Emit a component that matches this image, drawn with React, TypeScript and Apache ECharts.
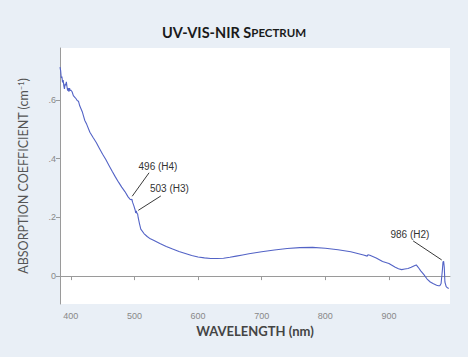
import React, { useEffect, useRef } from "react";
import * as echarts from "echarts";

const wavelength = [
  383, 384, 385, 386, 387, 388, 389, 390, 391, 392, 393, 394, 395, 396, 397, 398, 399, 400,
  402, 404, 406, 408, 410, 412, 414, 416, 418, 420, 422, 425, 430, 435, 440, 445, 450, 455,
  460, 465, 470, 475, 480, 485, 490, 493, 495, 496, 497, 499, 501, 502, 503, 504, 505, 506,
  508, 510, 515, 520, 525, 530, 540, 550, 560, 570, 580, 590, 600, 610, 620, 630, 640, 650,
  660, 670, 680, 700, 720, 740, 760, 780, 800, 820, 840, 860, 866, 867, 870, 880, 890, 900,
  910, 915, 920, 925, 930, 935, 940, 943, 946, 950, 955, 960, 965, 970, 975, 978, 980, 982,
  984, 985, 986, 987, 988, 990, 992, 994,
];
const absorption = [
  0.712, 0.7, 0.675, 0.68, 0.66, 0.668, 0.648, 0.638, 0.655, 0.65, 0.662, 0.645, 0.632, 0.64, 0.628, 0.64, 0.632, 0.634,
  0.628, 0.615, 0.61, 0.605, 0.598, 0.596, 0.58, 0.57, 0.56, 0.545, 0.53, 0.517, 0.49, 0.472, 0.455, 0.435, 0.415, 0.397,
  0.377, 0.357, 0.338, 0.32, 0.303, 0.288, 0.27, 0.262, 0.26, 0.262, 0.252, 0.24, 0.226, 0.215, 0.222, 0.214, 0.212, 0.198,
  0.178, 0.16, 0.145, 0.135, 0.127, 0.122, 0.111, 0.101, 0.092, 0.084, 0.077, 0.07, 0.065, 0.062, 0.06, 0.06, 0.061, 0.064,
  0.068, 0.072, 0.076, 0.083, 0.089, 0.094, 0.097, 0.098, 0.095, 0.09, 0.083, 0.072, 0.068, 0.073, 0.071, 0.062, 0.05, 0.043,
  0.03, 0.025, 0.022, 0.024, 0.026, 0.03, 0.035, 0.038, 0.03, 0.018, 0.005, -0.01, -0.02, -0.026, -0.031, -0.033, -0.033, -0.025,
  0.02, 0.048, 0.05, 0.03, -0.02, -0.036, -0.04, -0.042,
];
const xTicks = [400, 500, 600, 700, 800, 900];
const yTicks = [0, 0.2, 0.4, 0.6];
const annotations = [
  { label: "496 (H4)", from: [496.5, 0.272], to: [523, 0.352], text: [537, 0.374] },
  { label: "503 (H3)", from: [506, 0.224], to: [541.5, 0.273], text: [555, 0.3] },
  { label: "986 (H2)", from: [983, 0.055], to: [938, 0.12], text: [933, 0.141] },
];

export default function App() {
  const ref = useRef<HTMLDivElement>(null);
  useEffect(() => {
    document.body.style.margin = "0";
    const chart = echarts.init(ref.current!, null, { renderer: "svg" });
    const data = wavelength.map((w, i) => [w, absorption[i]]);
    chart.setOption({
      animation: false,
      backgroundColor: "#e9eff6",
      title: {
        text: "{a|UV-VIS-NIR S}{b|PECTRUM}",
        left: "center",
        top: 20,
        textStyle: {
          rich: {
            a: { fontFamily: "Lato", fontWeight: "bold", fontSize: 14.5, color: "#1a1a1a" },
            b: { fontFamily: "Lato", fontWeight: "bold", fontSize: 11.5, color: "#1a1a1a" },
          },
        },
      },
      grid: {
        left: 60,
        right: 18,
        top: 48,
        bottom: 53,
        show: true,
        backgroundColor: "#ffffff",
        borderWidth: 0,
      },
      xAxis: {
        type: "value",
        min: 383,
        max: 996,
        name: "WAVELENGTH (nm)",
        nameLocation: "middle",
        nameGap: 20,
        nameTextStyle: { fontFamily: "Lato", fontSize: 13, color: "#444", fontWeight: "bold" },
        axisLine: { show: true, lineStyle: { color: "#9a9a9a", width: 1 } },
        axisTick: { show: true, length: 4, customValues: xTicks, lineStyle: { color: "#9a9a9a" } },
        axisLabel: { customValues: xTicks, color: "#888", fontSize: 9, fontFamily: "Liberation Sans", margin: 7 },
        splitLine: { show: false },
      },
      yAxis: {
        type: "value",
        min: -0.095,
        max: 0.777,
        name: "{a|ABSORPTION COEFFICIENT (cm}{s|–1}{a|)}",
        nameLocation: "middle",
        nameGap: 30,
        nameRotate: 90,
        nameTextStyle: {
          rich: {
            a: { fontFamily: "Lato", fontSize: 12.5, color: "#555" },
            s: { fontFamily: "Lato", fontSize: 7.5, color: "#555", verticalAlign: "top", padding: [0, 0, 5, 0] },
          },
        },
        axisLine: { show: true, lineStyle: { color: "#9a9a9a", width: 1 } },
        axisTick: { show: true, length: 4, customValues: yTicks, lineStyle: { color: "#9a9a9a" } },
        axisLabel: {
          customValues: yTicks,
          color: "#888",
          fontSize: 9,
          fontFamily: "Liberation Sans",
          margin: 4,
          formatter: (v: number) => (Math.abs(v) < 1e-9 ? "0" : "." + Math.round(v * 10)),
        },
        splitLine: { show: false },
      },
      series: [
        {
          type: "line",
          data,
          showSymbol: false,
          symbol: "none",
          lineStyle: { color: "#5363c6", width: 1.1 },
          itemStyle: { color: "#5363c6" },
          markLine: {
            silent: true,
            symbol: ["none", "none"],
            label: { show: false },
            lineStyle: { color: "#222", width: 0.9, type: "solid" },
            data: annotations.map((a) => [{ coord: a.from }, { coord: a.to }]),
          },
          markPoint: {
            silent: true,
            symbol: "circle",
            symbolSize: 0,
            label: {
              show: true,
              position: "inside",
              color: "#333",
              fontSize: 10,
              fontFamily: "Liberation Sans",
              formatter: (p: any) => p.name,
            },
            data: annotations.map((a) => ({ name: a.label, coord: a.text })),
          },
        },
      ],
    });
    return () => chart.dispose();
  }, []);
  return <div ref={ref} style={{ width: 468, height: 357 }} />;
}
